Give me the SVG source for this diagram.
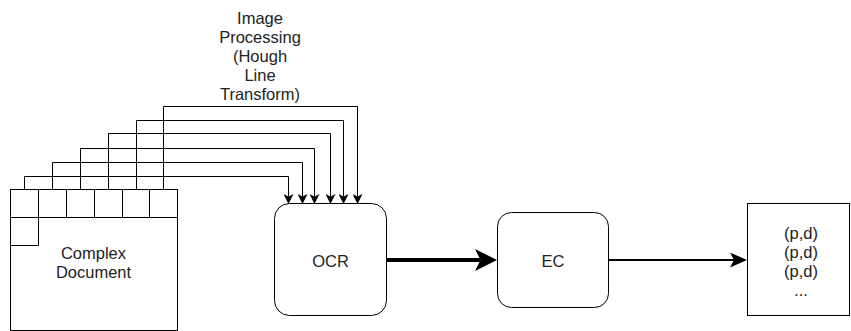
<svg xmlns="http://www.w3.org/2000/svg" width="851" height="331" viewBox="0 0 851 331">
  <style>
    .box { fill: #fff; stroke: #000; stroke-width: 1; }
    .ln { fill: none; stroke: #000; stroke-width: 1; }
    .t { font-family: "Liberation Sans", Arial, sans-serif; font-size: 16.5px; fill: #222; text-anchor: middle; }
  </style>
  <defs>
    <marker id="aSmall" markerUnits="userSpaceOnUse" viewBox="0 0 10 10" refX="2.5" refY="5" markerWidth="10" markerHeight="10" orient="auto">
      <path d="M0,0 L10,5 L0,10 L2.5,5 Z" fill="#000"/>
    </marker>
    <marker id="aBig" markerUnits="userSpaceOnUse" viewBox="0 0 22 22" refX="5.5" refY="11" markerWidth="22" markerHeight="22" orient="auto">
      <path d="M0,0 L22,11 L0,22 L5.5,11 Z" fill="#000"/>
    </marker>
    <marker id="aMid" markerUnits="userSpaceOnUse" viewBox="0 0 17 15" refX="4" refY="7.5" markerWidth="17" markerHeight="15" orient="auto">
      <path d="M0,0 L17,7.5 L0,15 L4,7.5 Z" fill="#000"/>
    </marker>
  </defs>

  <g id="connectors">
    <path class="ln" d="M24.5,189.5 V176.5 H288.5 V196.5" marker-end="url(#aSmall)"/>
    <path class="ln" d="M52.5,189.5 V162.5 H302.5 V196.5" marker-end="url(#aSmall)"/>
    <path class="ln" d="M80.5,189.5 V148.5 H314.5 V196.5" marker-end="url(#aSmall)"/>
    <path class="ln" d="M108.5,189.5 V133.5 H330.5 V196.5" marker-end="url(#aSmall)"/>
    <path class="ln" d="M136.5,189.5 V120.5 H343.5 V196.5" marker-end="url(#aSmall)"/>
    <path class="ln" d="M163.5,189.5 V106.5 H357.5 V196.5" marker-end="url(#aSmall)"/>
    <path d="M386.5,260 H480.5" fill="none" stroke="#000" stroke-width="4" marker-end="url(#aBig)"/>
    <path d="M608.5,260 H734" fill="none" stroke="#000" stroke-width="2" marker-end="url(#aMid)"/>
  </g>

  <g id="label-image-processing">
    <text class="t" x="260" y="24">Image</text>
    <text class="t" x="260" y="43">Processing</text>
    <text class="t" x="260" y="62">(Hough</text>
    <text class="t" x="260" y="81">Line</text>
    <text class="t" x="260" y="100">Transform)</text>
  </g>

  <g id="complex-document">
    <rect class="box" x="10.5" y="189.5" width="167" height="141"/>
    <path class="ln" d="M10.5,217.5 H177.5 M38.5,189.5 V245.5 M66.5,189.5 V217.5 M94.5,189.5 V217.5 M122.5,189.5 V217.5 M149.5,189.5 V217.5 M10.5,245.5 H38.5"/>
    <text class="t" x="93.5" y="258.5">Complex</text>
    <text class="t" x="93.5" y="277.5">Document</text>
  </g>

  <g id="ocr">
    <rect class="box" x="274.5" y="203.5" width="112" height="112" rx="15" ry="15"/>
    <text class="t" x="330.5" y="267">OCR</text>
  </g>

  <g id="ec">
    <rect class="box" x="497.5" y="212.5" width="111" height="95" rx="14" ry="14"/>
    <text class="t" x="553" y="267">EC</text>
  </g>

  <g id="output">
    <rect class="box" x="747.5" y="203.5" width="102" height="112"/>
    <text class="t" x="801" y="239">(p,d)</text>
    <text class="t" x="801" y="258">(p,d)</text>
    <text class="t" x="801" y="277">(p,d)</text>
    <text class="t" x="801" y="296">...</text>
  </g>
</svg>
